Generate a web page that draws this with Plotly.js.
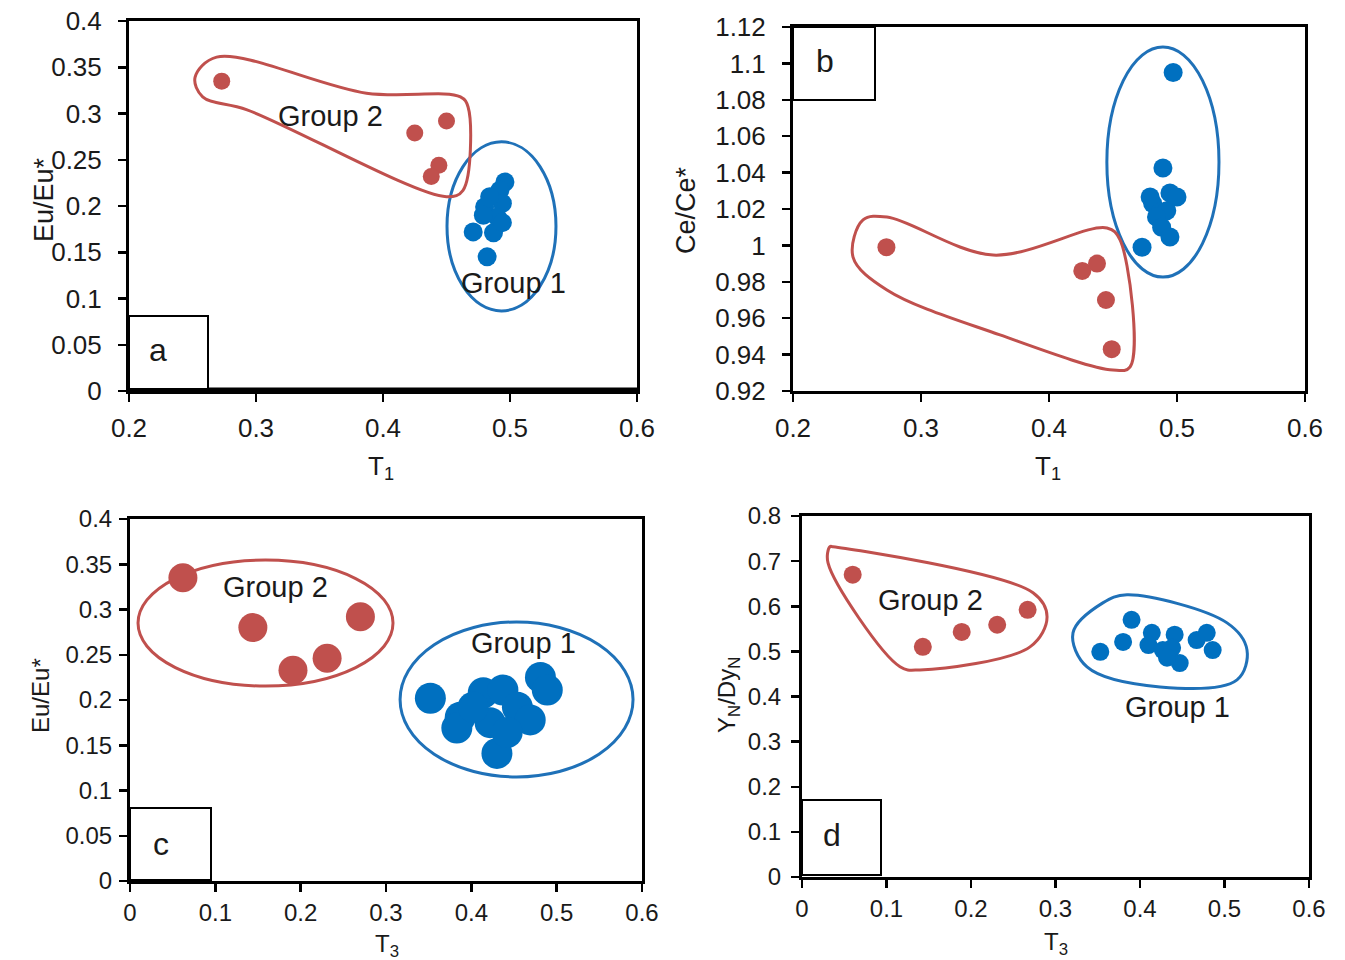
<!DOCTYPE html>
<html>
<head>
<meta charset="utf-8">
<script src="https://cdn.plot.ly/plotly-3.0.1.min.js"></script>
<style>html,body{margin:0;padding:0;background:#fff;}#chart{width:1345px;height:960px;}</style>
</head>
<body>
<div id="chart"></div>
<script>
// ---- Data ----
// Panel a: T1 vs Eu/Eu*
const a_g2_x = [0.273, 0.425, 0.450, 0.444, 0.438];
const a_g2_y = [0.335, 0.279, 0.292, 0.244, 0.232];
const a_g1_x = [0.496, 0.492, 0.494, 0.484, 0.480, 0.490, 0.479, 0.471, 0.487, 0.482, 0.494];
const a_g1_y = [0.226, 0.217, 0.203, 0.210, 0.199, 0.188, 0.190, 0.172, 0.171, 0.145, 0.182];
// Panel b: T1 vs Ce/Ce*
const b_g2_x = [0.273, 0.426, 0.4375, 0.4445, 0.449];
const b_g2_y = [0.999, 0.986, 0.990, 0.970, 0.943];
const b_g1_x = [0.497, 0.489, 0.4945, 0.481, 0.492, 0.484, 0.488, 0.4945, 0.4727, 0.500, 0.479];
const b_g1_y = [1.095, 1.0425, 1.0288, 1.023, 1.019, 1.0156, 1.010, 1.0046, 0.999, 1.0266, 1.0266];
// Panel c: T3 vs Eu/Eu*
const c_g2_x = [0.062, 0.144, 0.191, 0.231, 0.270];
const c_g2_y = [0.335, 0.280, 0.233, 0.246, 0.292];
const c_g1_x = [0.352, 0.481, 0.489, 0.387, 0.383, 0.430, 0.414, 0.437, 0.454, 0.469, 0.422, 0.402, 0.442];
const c_g1_y = [0.202, 0.225, 0.211, 0.181, 0.169, 0.141, 0.208, 0.211, 0.192, 0.178, 0.175, 0.192, 0.164];
// Panel d: T3 vs YN/DyN
const d_g2_x = [0.060, 0.143, 0.189, 0.231, 0.267];
const d_g2_y = [0.670, 0.510, 0.543, 0.559, 0.592];
const d_g1_x = [0.353, 0.380, 0.390, 0.414, 0.410, 0.427, 0.441, 0.438, 0.447, 0.432, 0.467, 0.479, 0.486];
const d_g1_y = [0.499, 0.521, 0.570, 0.541, 0.514, 0.503, 0.537, 0.508, 0.474, 0.486, 0.525, 0.541, 0.503];

// Hand-drawn group outlines (data coordinates)
const a_g2_outline_x = [0.252, 0.269, 0.387, 0.461, 0.467, 0.463, 0.450, 0.293, 0.258, 0.252];
const a_g2_outline_y = [0.339, 0.361, 0.322, 0.318, 0.307, 0.217, 0.210, 0.304, 0.318, 0.339];
const b_g2_outline_x = [0.2547, 0.2734, 0.3563, 0.4453, 0.4555, 0.4633, 0.450, 0.3617, 0.2734, 0.2469, 0.2547];
const b_g2_outline_y = [1.014, 1.0156, 0.9947, 1.0096, 1.003, 0.9332, 0.9315, 0.9508, 0.9755, 0.9936, 1.014];
const d_g2_outline_x = [0.0367, 0.2734, 0.290, 0.2698, 0.1396, 0.116, 0.0308, 0.0331, 0.0367];
const d_g2_outline_y = [0.732, 0.630, 0.5765, 0.510, 0.459, 0.466, 0.696, 0.732, 0.732];
const d_g1_outline_x = [0.3846, 0.503, 0.5266, 0.5148, 0.4237, 0.3373, 0.3207, 0.356, 0.3846];
const d_g1_outline_y = [0.6253, 0.5632, 0.5033, 0.4368, 0.4213, 0.4656, 0.541, 0.6075, 0.6253];
// Ellipses: [cx, cy, rx, ry]
const a_g1_ellipse = [0.4933, 0.178, 0.0429, 0.0914];
const b_g1_ellipse = [0.489, 1.0458, 0.0438, 0.0632];
const c_g2_ellipse = [0.1588, 0.285, 0.1494, 0.0696];
const c_g1_ellipse = [0.453, 0.2006, 0.1365, 0.0856];

const RED = '#C0504D', BLUE = '#0070C0', RED_LINE = '#C0504D', BLUE_LINE = '#1F71B8';
const FONT = 'Liberation Sans, Arial, sans-serif';
const TXT = '#1a1a1a';

function pts(x, y, xa, ya, color, size) {
  return {x: x, y: y, xaxis: xa, yaxis: ya, type: 'scatter', mode: 'markers',
    marker: {color: color, size: size, line: {width: 0}}, showlegend: false, hoverinfo: 'x+y'};
}
function outline(x, y, xa, ya, color) {
  return {x: x, y: y, xaxis: xa, yaxis: ya, type: 'scatter', mode: 'lines',
    line: {color: color, width: 3, shape: 'spline', smoothing: 1.0}, showlegend: false, hoverinfo: 'skip'};
}
function ellipse(e, xr, yr, color) {
  return {type: 'circle', xref: xr, yref: yr, x0: e[0] - e[2], x1: e[0] + e[2], y0: e[1] - e[3], y1: e[1] + e[3],
    line: {color: color, width: 3}, layer: 'below'};
}

const data = [
  outline(a_g2_outline_x, a_g2_outline_y, 'x', 'y', RED_LINE),
  pts(a_g2_x, a_g2_y, 'x', 'y', RED, 17),
  pts(a_g1_x, a_g1_y, 'x', 'y', BLUE, 19),
  outline(b_g2_outline_x, b_g2_outline_y, 'x2', 'y2', RED_LINE),
  pts(b_g2_x, b_g2_y, 'x2', 'y2', RED, 18),
  pts(b_g1_x, b_g1_y, 'x2', 'y2', BLUE, 19),
  pts(c_g2_x, c_g2_y, 'x3', 'y3', RED, 29),
  pts(c_g1_x, c_g1_y, 'x3', 'y3', BLUE, 31),
  outline(d_g2_outline_x, d_g2_outline_y, 'x4', 'y4', RED_LINE),
  outline(d_g1_outline_x, d_g1_outline_y, 'x4', 'y4', BLUE_LINE),
  pts(d_g2_x, d_g2_y, 'x4', 'y4', RED, 18),
  pts(d_g1_x, d_g1_y, 'x4', 'y4', BLUE, 18)
];

function axis(domain, range, dtick, anchor, fs, standoff) {
  return {domain: domain, range: range, dtick: dtick, anchor: anchor, showgrid: false, zeroline: false,
    showline: true, linecolor: '#000', linewidth: 3, mirror: true,
    ticks: 'outside', ticklen: 8, tickwidth: 2.5, tickcolor: '#000', ticklabelstandoff: standoff,
    tickfont: {family: FONT, size: fs, color: TXT}, fixedrange: true};
}
const W = 1345, H = 960;
const dx = (p0, p1) => [p0 / W, p1 / W];
const dy = (top, bot) => [1 - bot / H, 1 - top / H];

const layout = {
  width: W, height: H, margin: {l: 0, r: 0, t: 0, b: 0},
  paper_bgcolor: '#fff', plot_bgcolor: '#fff', showlegend: false,
  font: {family: FONT, color: TXT},
  xaxis: axis(dx(129, 637), [0.2, 0.6], 0.1, 'y', 26, 4),
  yaxis: axis(dy(21, 391), [0, 0.4], 0.05, 'x', 26, 11),
  xaxis2: axis(dx(793, 1305), [0.2, 0.6], 0.1, 'y2', 26, 4),
  yaxis2: axis(dy(27, 391), [0.92, 1.12], 0.02, 'x2', 26, 11),
  xaxis3: axis(dx(130, 642), [0, 0.6], 0.1, 'y3', 24, 0),
  yaxis3: axis(dy(519, 881), [0, 0.4], 0.05, 'x3', 24, 2),
  xaxis4: axis(dx(802, 1309), [0, 0.6], 0.1, 'y4', 24, 0),
  yaxis4: axis(dy(516, 877), [0, 0.8], 0.1, 'x4', 24, 5),
  shapes: [
    ellipse(a_g1_ellipse, 'x', 'y', BLUE_LINE),
    ellipse(b_g1_ellipse, 'x2', 'y2', BLUE_LINE),
    ellipse(c_g2_ellipse, 'x3', 'y3', RED_LINE),
    ellipse(c_g1_ellipse, 'x3', 'y3', BLUE_LINE),
    // thicker bottom axis line in panel a
    {type: 'line', xref: 'paper', yref: 'paper', x0: 129 / W, x1: 637 / W, y0: 1 - 390 / H, y1: 1 - 390 / H, line: {color: '#000', width: 5}},
    // panel letter boxes
    {type: 'rect', xref: 'paper', yref: 'paper', x0: 129 / W, x1: 208 / W, y0: 1 - 389 / H, y1: 1 - 316 / H, line: {color: '#000', width: 2}, fillcolor: '#fff'},
    {type: 'rect', xref: 'paper', yref: 'paper', x0: 793 / W, x1: 875 / W, y0: 1 - 100 / H, y1: 1 - 27 / H, line: {color: '#000', width: 2}, fillcolor: '#fff'},
    {type: 'rect', xref: 'paper', yref: 'paper', x0: 130 / W, x1: 211 / W, y0: 1 - 880 / H, y1: 1 - 808 / H, line: {color: '#000', width: 2}, fillcolor: '#fff'},
    {type: 'rect', xref: 'paper', yref: 'paper', x0: 802 / W, x1: 881 / W, y0: 1 - 875 / H, y1: 1 - 800 / H, line: {color: '#000', width: 2}, fillcolor: '#fff'}
  ],
  annotations: []
};

function note(text, x, y, size, angle) {
  const a = {text: text, xref: 'paper', yref: 'paper', x: x / W, y: 1 - y / H, showarrow: false,
    xanchor: 'center', yanchor: 'middle', font: {family: FONT, size: size, color: TXT}};
  if (angle) a.textangle = angle;
  return a;
}
function dnote(text, xr, yr, x, y, size) {
  return {text: text, xref: xr, yref: yr, x: x, y: y, showarrow: false, xanchor: 'center', yanchor: 'middle',
    font: {family: FONT, size: size, color: TXT}};
}
layout.annotations.push(
  note('a', 158, 350, 32), note('b', 825, 61, 32), note('c', 161, 844, 32), note('d', 832, 835, 32),
  note('Eu/Eu*', 44, 200, 27, -90), note('T<sub>1</sub>', 381, 467, 26),
  note('Ce/Ce*', 686, 210, 27, -90), note('T<sub>1</sub>', 1048, 467, 26),
  note('Eu/Eu*', 40, 696, 24, -90), note('T<sub>3</sub>', 387, 945, 24),
  note('Y<sub>N</sub>/Dy<sub>N</sub>', 728, 695, 24, -90), note('T<sub>3</sub>', 1056, 943, 24),
  dnote('Group 2', 'x', 'y', 0.359, 0.297, 29),
  dnote('Group 1', 'x', 'y', 0.503, 0.117, 29),
  dnote('Group 2', 'x3', 'y3', 0.170, 0.325, 29),
  dnote('Group 1', 'x3', 'y3', 0.4617, 0.263, 29),
  dnote('Group 2', 'x4', 'y4', 0.1515, 0.614, 29),
  dnote('Group 1', 'x4', 'y4', 0.4438, 0.377, 29)
);

Plotly.newPlot('chart', data, layout, {displayModeBar: false, staticPlot: true});
</script>
</body>
</html>
